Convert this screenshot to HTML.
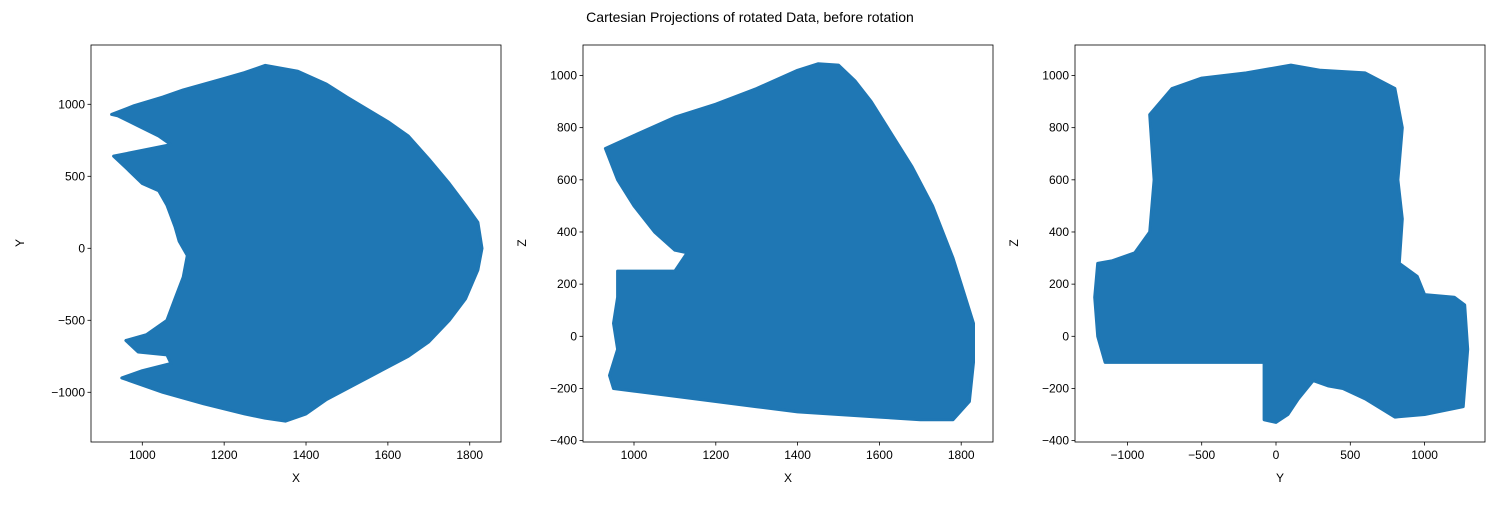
<!DOCTYPE html>
<html><head><meta charset="utf-8"><style>
body{margin:0;background:#fff;}
svg text{font-family:"Liberation Sans","DejaVu Sans",sans-serif;fill:#000;}
</style></head><body>
<svg id="fig" width="1500" height="500" xmlns="http://www.w3.org/2000/svg">
<text x="750" y="22" text-anchor="middle" font-size="14">Cartesian Projections of rotated Data, before rotation</text>
</svg>
<script>
// Panel 1: X vs Y outline (data coords)
const p1X=[925,980,1050,1100,1200,1250,1300,1380,1450,1500,1600,1650,1700,1750,1790,1820,1830,1820,1790,1750,1700,1650,1550,1450,1400,1350,1300,1250,1150,1050,950,1000,1070,1060,990,960,1010,1060,1080,1100,1110,1090,1080,1060,1040,1000,960,930,1000,1070,1040,990,940];
const p1Y=[930,990,1050,1100,1180,1220,1270,1230,1140,1050,880,780,620,450,300,180,0,-150,-350,-500,-650,-750,-900,-1050,-1150,-1200,-1180,-1150,-1080,-1000,-900,-850,-800,-740,-720,-640,-600,-500,-350,-200,-50,50,150,300,400,450,560,640,680,720,780,850,920];
// Panel 2: X vs Z outline
const p2X=[930,1000,1100,1200,1300,1400,1450,1500,1540,1580,1620,1680,1730,1780,1800,1830,1830,1820,1780,1700,1600,1500,1400,1300,1200,1100,1000,950,940,960,950,960,960,1100,1130,1100,1050,1000,960];
const p2Z=[720,770,840,890,950,1020,1045,1040,980,900,800,650,500,300,200,50,-100,-250,-320,-320,-310,-300,-290,-270,-250,-230,-210,-200,-150,-50,50,150,250,250,320,330,400,500,600];
// Panel 3: Y vs Z outline
const p3Y=[-1200,-1100,-950,-850,-820,-850,-700,-500,-200,100,300,600,800,850,820,850,830,950,1000,1200,1270,1290,1260,1000,800,600,450,350,250,150,80,0,-80,-80,-1150,-1200,-1220];
const p3Z=[280,290,320,400,600,850,950,990,1010,1040,1020,1010,950,800,600,450,280,230,160,150,120,-50,-270,-300,-310,-240,-200,-190,-170,-240,-300,-330,-320,-100,-100,0,150];
const xt1=[1000,1200,1400,1600,1800], yt1=[-1000,-500,0,500,1000];
const xt2=[1000,1200,1400,1600,1800], zt=[-400,-200,0,200,400,600,800,1000];
const yt3=[-1000,-500,0,500,1000];
const NS='http://www.w3.org/2000/svg';
const svg=document.getElementById('fig');
function mk(t,a){const e=document.createElementNS(NS,t);for(const k in a)e.setAttribute(k,a[k]);svg.appendChild(e);return e;}
function panel(name,L,R,sx,sy,xs,ys,xt,yt,xl,yl){
  const pts=xs.map((v,i)=>sx(v).toFixed(1)+','+sy(ys[i]).toFixed(1)).join(' ');
  const poly=mk('polygon',{points:pts,fill:'#1f77b4',stroke:'#1f77b4','stroke-width':'3','stroke-linejoin':'round'});
  
  
  const fr=mk('rect',{x:L,y:45,width:R-L,height:397,fill:'none',stroke:'#000','stroke-width':'0.8'});
  
  
  xt.forEach(v=>{const x=sx(v);mk('line',{x1:x,x2:x,y1:442,y2:445.5,stroke:'#000','stroke-width':'0.8'});
    const t=mk('text',{x:x,y:459,'text-anchor':'middle','font-size':'12'});t.textContent=String(v).replace('-','\u2212');
    
    });
  yt.forEach(v=>{const y=sy(v);mk('line',{x1:L,x2:L-3.5,y1:y,y2:y,stroke:'#000','stroke-width':'0.8'});
    const t=mk('text',{x:L-6,y:y+4,'text-anchor':'end','font-size':'12'});t.textContent=String(v).replace('-','\u2212');
    
    });
  const a=mk('text',{x:(L+R)/2,y:482,'text-anchor':'middle','font-size':'12'});a.textContent=xl;
  
  
  const b=mk('text',{x:0,y:0,'text-anchor':'middle','font-size':'12',transform:`translate(${yl[1]},243) rotate(-90)`});b.textContent=yl[0];
  
  
}
const sx1=v=>142.3+(v-1000)*0.4093, sy1=v=>248.3-v*0.144;
const sx2=v=>634+(v-1000)*0.409, sz=v=>336.3-v*0.2608;
const sx3=v=>1276+v*0.1486;
panel('panel-xy',91,501,sx1,sy1,p1X,p1Y,xt1,yt1,'X',['Y',24]);
panel('panel-xz',583,993,sx2,sz,p2X,p2Z,xt2,zt,'X',['Z',526]);
panel('panel-yz',1075,1485,sx3,sz,p3Y,p3Z,yt3,zt,'Y',['Z',1018]);
</script>
</body></html>
